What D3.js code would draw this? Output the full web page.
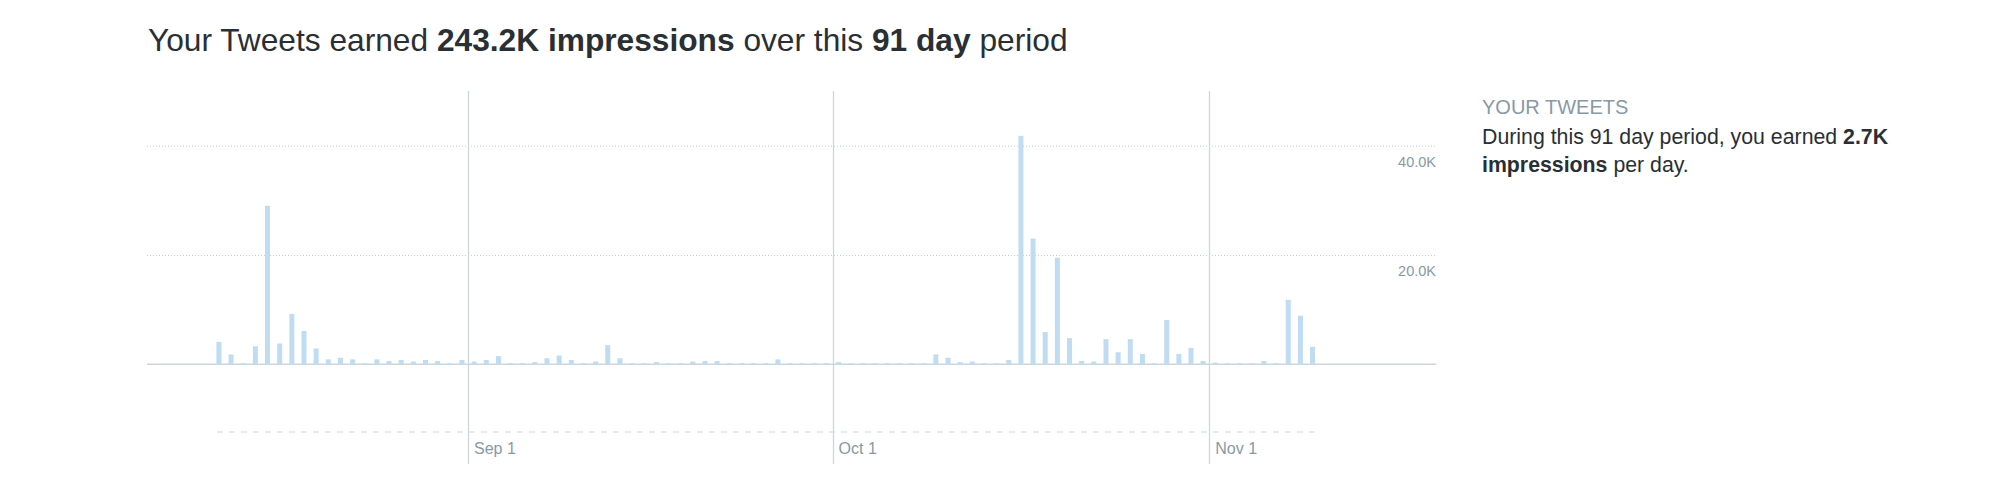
<!DOCTYPE html>
<html>
<head>
<meta charset="utf-8">
<script src="https://cdn.jsdelivr.net/npm/d3@7"></script>
<style>
  html, body { margin: 0; padding: 0; background: #fff; }
  svg { display: block; font-family: "Liberation Sans", Arial, Helvetica, sans-serif; }
</style>
</head>
<body>
<svg id="chart" width="2000" height="483"></svg>
<script>
// ---- data ----
const startDate = "2018-08-11";           // first day of the 91-day period
const impressions = [
  4100, 1800, 200, 3300, 29000, 3800, 9200, 6100, 2900, 900,
  1200, 900, 200, 900, 600, 800, 500, 800, 600, 200,
  800, 500, 800, 1500, 200, 200, 400, 1100, 1600, 800,
  200, 500, 3500, 1100, 200, 200, 400, 200, 200, 500,
  600, 600, 200, 200, 200, 200, 900, 200, 200, 200,
  200, 400, 200, 200, 200, 200, 200, 200, 200, 1800,
  1200, 400, 500, 200, 200, 800, 41800, 23000, 5900, 19500,
  4800, 600, 500, 4600, 2200, 4600, 1900, 200, 8100, 1900,
  3000, 600, 300, 200, 200, 200, 600, 200, 11800, 8900,
  3200
];
const yTicks = [20000, 40000];
const yTickLabels = ["20.0K", "40.0K"];
const xTicks = ["2018-09-01", "2018-10-01", "2018-11-01"];
const xTickLabels = ["Sep 1", "Oct 1", "Nov 1"];
const titleParts = [
  {t: "Your Tweets earned ", b: false},
  {t: "243.2K impressions", b: true},
  {t: " over this ", b: false},
  {t: "91 day", b: true},
  {t: " period", b: false}
];
const sideHeading = "YOUR TWEETS";
const sideLines = [
  [{t: "During this 91 day period, you earned ", b: false}, {t: "2.7K", b: true}],
  [{t: "impressions", b: true}, {t: " per day.", b: false}]
];

// ---- scales ----
const DAY = 864e5;
const parse = s => new Date(s + "T00:00:00Z");
const sep1 = parse("2018-09-01");
const x = d3.scaleUtc()
  .domain([new Date(+sep1 - 26.42 * DAY), new Date(+sep1 + 79.66 * DAY)])
  .range([147, 1436]);
const y = d3.scaleLinear().domain([0, 40000]).range([364.3, 145.7]);

const days = impressions.map((v, i) => ({date: d3.utcDay.offset(parse(startDate), i), v}));
const dayW = x(d3.utcDay.offset(sep1, 1)) - x(sep1);

const svg = d3.select("#chart");
const grid = "#ccd6dd";

// title
const title = svg.append("text").attr("x", 148).attr("y", 51)
  .attr("font-size", 31.7).attr("fill", "#292f33");
title.selectAll("tspan").data(titleParts).join("tspan")
  .attr("font-weight", d => d.b ? "bold" : "normal").text(d => d.t);

// horizontal dotted grid
svg.append("g").selectAll("line").data(yTicks).join("line")
  .attr("x1", x.range()[0]).attr("x2", x.range()[1])
  .attr("y1", d => y(d) + 0.5).attr("y2", d => y(d) + 0.5)
  .attr("stroke", "#c4cdd4").attr("stroke-width", 1).attr("stroke-dasharray", "1,2");

// vertical month lines
svg.append("g").selectAll("line").data(xTicks).join("line")
  .attr("x1", d => Math.round(x(parse(d))) + 0.5).attr("x2", d => Math.round(x(parse(d))) + 0.5)
  .attr("y1", 91).attr("y2", 464)
  .attr("stroke", grid).attr("stroke-width", 1.3);

// baseline
svg.append("line")
  .attr("x1", x.range()[0]).attr("x2", x.range()[1])
  .attr("y1", y(0)).attr("y2", y(0))
  .attr("stroke", grid).attr("stroke-width", 1.5);

// dashed period line
svg.append("line")
  .attr("x1", x(days[0].date) + 4).attr("x2", x(d3.utcDay.offset(days[days.length - 1].date, 1)) - 2)
  .attr("y1", 432).attr("y2", 432)
  .attr("stroke", grid).attr("stroke-width", 1.2).attr("stroke-dasharray", "6,6");

// bars
const bw = 5;
svg.append("g").selectAll("rect").data(days).join("rect")
  .attr("x", d => x(d.date) + dayW / 2 - bw / 2)
  .attr("width", bw)
  .attr("y", d => y(d.v))
  .attr("height", d => y(0) - y(d.v))
  .attr("fill", "#bfdcf3");

// y labels
svg.append("g").selectAll("text").data(yTicks).join("text")
  .attr("x", 1436).attr("y", d => y(d) + 21)
  .attr("text-anchor", "end").attr("font-size", 14.5).attr("fill", "#8899a6")
  .text((d, i) => yTickLabels[i]);

// x labels
svg.append("g").selectAll("text").data(xTicks).join("text")
  .attr("x", d => x(parse(d)) + 6).attr("y", 454)
  .attr("font-size", 16).attr("fill", "#8899a6")
  .text((d, i) => xTickLabels[i]);

// side panel
svg.append("text").attr("x", 1482).attr("y", 114)
  .attr("font-size", 20).attr("fill", "#8899a6").text(sideHeading);
const lineY = [144, 172];
sideLines.forEach((parts, li) => {
  const t = svg.append("text").attr("x", 1482).attr("y", lineY[li])
    .attr("font-size", 21.3).attr("fill", "#292f33");
  t.selectAll("tspan").data(parts).join("tspan")
    .attr("font-weight", d => d.b ? "bold" : "normal").text(d => d.t);
});
</script>
</body>
</html>
